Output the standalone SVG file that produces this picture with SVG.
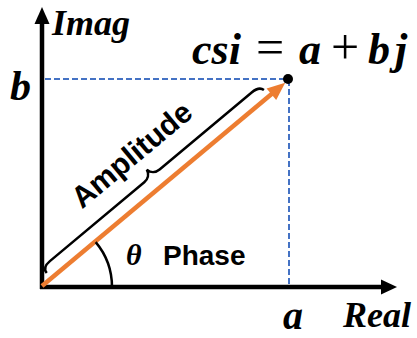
<svg xmlns="http://www.w3.org/2000/svg" width="417" height="338" viewBox="0 0 417 338">
<style>
.math{font-family:"Liberation Serif","Times New Roman",serif;font-style:italic;font-weight:bold;fill:#000}
.op{font-family:"Liberation Serif","Times New Roman",serif;font-style:normal;font-weight:normal;fill:#000}
.lbl{font-family:"Liberation Sans",Arial,sans-serif;font-weight:bold;fill:#000}
.axis{stroke:#000;stroke-width:4.5;fill:none}
.guide{stroke:#4472C4;stroke-width:2;stroke-dasharray:6 3;fill:none}
.thin{stroke:#000;stroke-width:2.5;fill:none}
</style>
<rect width="417" height="338" fill="#fff"/>
<g id="connectors">
  <g id="guides">
    <line class="guide" x1="45" y1="79" x2="288" y2="79"/>
    <line class="guide" x1="289" y1="80" x2="289" y2="286"/>
  </g>
  <g id="imag-axis">
    <line class="axis" x1="42" y1="289" x2="42" y2="22"/>
    <polygon points="42,7 34.5,24 49.5,24" fill="#000"/>
  </g>
  <g id="real-axis">
    <line class="axis" x1="40" y1="287" x2="383" y2="287"/>
    <polygon points="397,287 381,279.5 381,294.5" fill="#000"/>
  </g>
  <g id="phasor" transform="translate(42,286) rotate(-39.9)">
    <line x1="0" y1="0" x2="302" y2="0" stroke="#ED7D31" stroke-width="4.5"/>
    <polygon points="317,0 299,-7.5 299,7.5" fill="#ED7D31"/>
    <path class="thin" d="M12,-7 C12,-12 15,-14 22,-14 L145,-14 C150,-14 154,-17 155,-22 C156,-17 160,-14 165,-14 L285,-14 C292,-14 295,-12 296,-8"/>
    <text class="lbl" x="153" y="-33" font-size="30" text-anchor="middle">Amplitude</text>
  </g>
  <path id="angle-arc" class="thin" d="M112,287 A70,70 0 0 0 95.7,242.1"/>
</g>
<g id="point">
  <circle cx="288" cy="79" r="5" fill="#000"/>
</g>
<g id="labels">
  <text class="math" x="52" y="35" font-size="36">Imag</text>
  <text class="math" x="10" y="100" font-size="42">b</text>
  <text class="math" x="283" y="329" font-size="40">a</text>
  <text class="math" x="343" y="327" font-size="36">Real</text>
  <text id="equation" y="64"><tspan class="math" font-size="44" x="192">csi</tspan><tspan class="op" font-size="50" x="256">=</tspan><tspan class="math" font-size="44" x="299">a</tspan><tspan class="op" font-size="50" x="331">+</tspan><tspan class="math" font-size="44" x="368">b</tspan><tspan class="math" font-size="44" x="395">j</tspan></text>
  <text x="126" y="265" font-size="30" font-family="Liberation Serif,serif" font-style="italic" font-weight="bold">θ</text>
  <text class="lbl" x="163" y="265" font-size="28">Phase</text>
</g>
</svg>
